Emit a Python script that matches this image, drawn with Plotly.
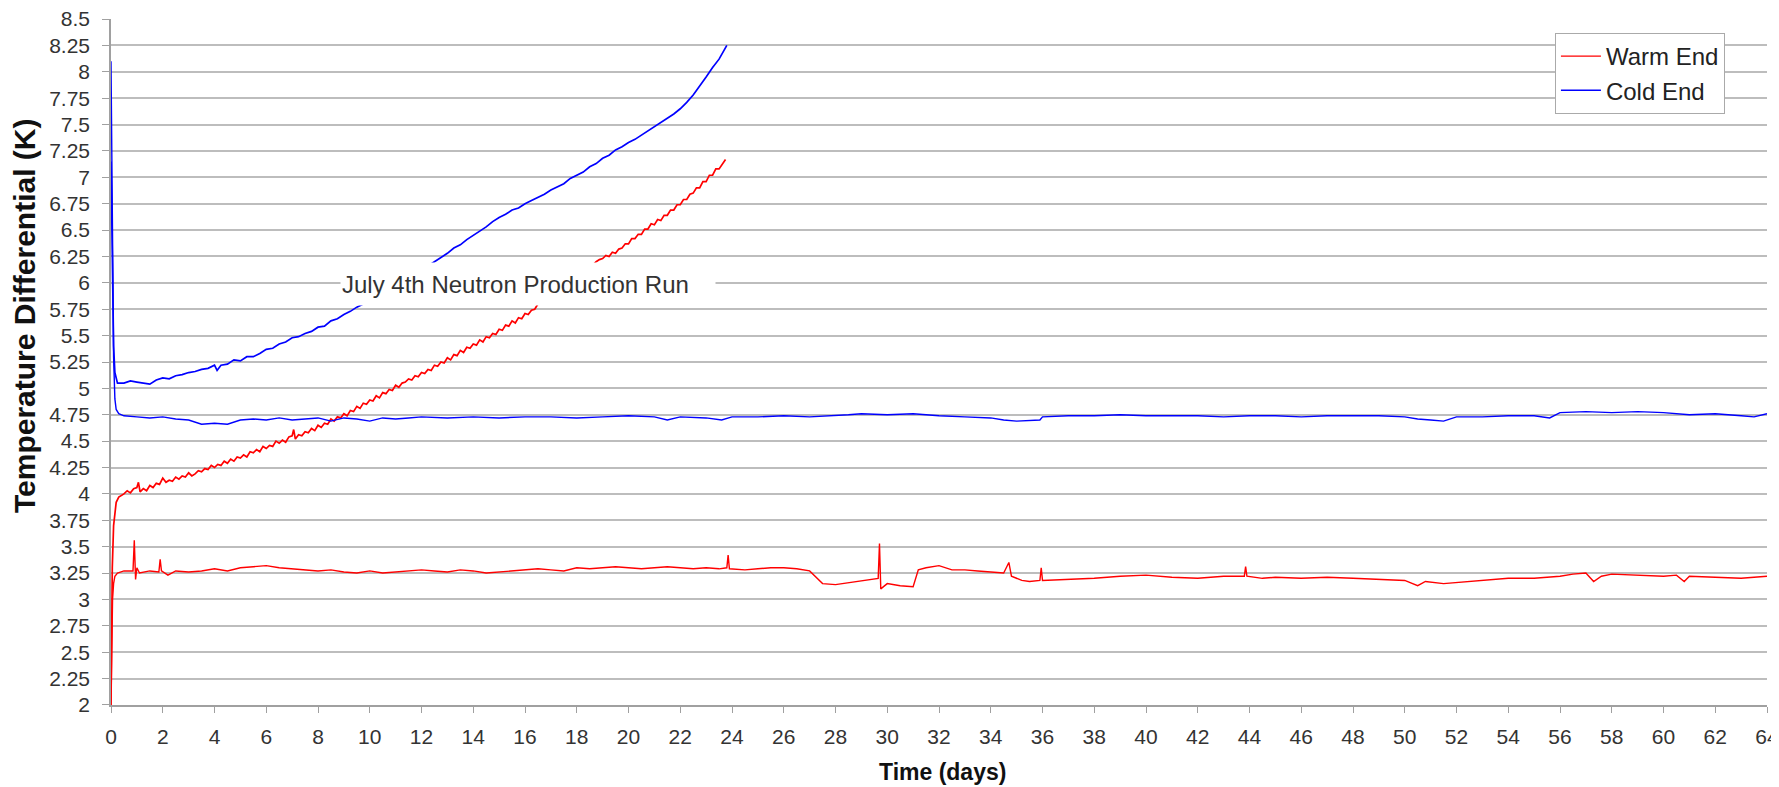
import plotly.graph_objects as go

# ---------------- data ----------------
warm_days = [0, 0.03, 0.06, 0.1, 0.15, 0.25, 0.5, 0.85, 0.9, 0.95, 1.0, 1.1, 1.5, 1.85, 1.9, 1.95, 2.2,
             2.5, 3, 3.5, 4, 4.5, 5, 5.5, 6, 6.5, 7, 7.5, 8, 8.5, 9, 9.5, 10, 10.5, 11, 11.5, 12, 12.5,
             13, 13.5, 14, 14.5, 15, 15.5, 16, 16.5, 17, 17.5, 18, 18.5, 19, 19.5, 20, 20.5, 21, 21.5,
             22, 22.5, 23, 23.5, 23.8, 23.85, 23.9, 24.5, 25, 25.5, 26, 26.5, 27, 27.5, 28, 28.5, 29,
             29.5, 29.65, 29.7, 29.75, 30, 30.5, 31, 31.2, 31.5, 32, 32.5, 33, 33.5, 34, 34.5, 34.7,
             34.8, 35.2, 35.5, 35.9, 35.95, 36, 37, 38, 39, 40, 41, 42, 43, 43.8, 43.85, 43.9, 44.5,
             45, 46, 47, 48, 49, 50, 50.5, 50.8, 51.5, 52, 53, 54, 55, 56, 56.5, 57, 57.3, 57.6, 58,
             59, 60, 60.5, 60.8, 61, 62, 63, 64]
warm_vals = [2.0, 2.6, 3.0, 3.15, 3.22, 3.25, 3.27, 3.27, 3.56, 3.19, 3.3, 3.25, 3.27, 3.26, 3.38, 3.27,
             3.23, 3.27, 3.26, 3.27, 3.29, 3.27, 3.3, 3.31, 3.32, 3.3, 3.29, 3.28, 3.27, 3.28, 3.26,
             3.25, 3.27, 3.25, 3.26, 3.27, 3.28, 3.27, 3.26, 3.28, 3.27, 3.25, 3.26, 3.27, 3.28, 3.29,
             3.28, 3.27, 3.3, 3.29, 3.3, 3.31, 3.3, 3.29, 3.3, 3.31, 3.3, 3.29, 3.3, 3.29, 3.3, 3.42,
             3.29, 3.28, 3.29, 3.3, 3.3, 3.29, 3.27, 3.15, 3.14, 3.16, 3.18, 3.2, 3.2, 3.53, 3.1,
             3.15, 3.13, 3.12, 3.28, 3.3, 3.32, 3.28, 3.28, 3.27, 3.26, 3.25, 3.35, 3.22, 3.18, 3.17,
             3.18, 3.3, 3.18, 3.19, 3.2, 3.22, 3.23, 3.21, 3.2, 3.22, 3.22, 3.31, 3.22, 3.2, 3.21,
             3.2, 3.21, 3.2, 3.19, 3.18, 3.13, 3.17, 3.15, 3.16, 3.18, 3.2, 3.2, 3.22, 3.24, 3.25,
             3.17, 3.22, 3.24, 3.23, 3.22, 3.23, 3.17, 3.22, 3.21, 3.2, 3.22]

cold_days = [0, 0.05, 0.1, 0.15, 0.2, 0.3, 0.5, 1, 1.5, 2, 2.5, 3, 3.5, 4, 4.5, 5, 5.5, 6, 6.5, 7,
             7.5, 8, 8.5, 9, 9.5, 10, 10.5, 11, 11.5, 12, 13, 14, 15, 16, 17, 18, 19, 20, 21, 21.5,
             22, 23, 23.6, 24, 25, 26, 27, 28, 28.5, 29, 30, 31, 32, 33, 34, 34.5, 35, 35.9, 36,
             37, 38, 39, 40, 41, 42, 43, 44, 45, 46, 47, 48, 49, 50, 50.5, 51, 51.5, 52, 53, 54,
             55, 55.6, 56, 57, 58, 59, 60, 61, 62, 63, 63.5, 64]
cold_vals = [8.1, 6.5, 5.3, 4.9, 4.8, 4.76, 4.74, 4.73, 4.72, 4.73, 4.71, 4.7, 4.66, 4.67, 4.66, 4.7,
             4.71, 4.7, 4.72, 4.7, 4.71, 4.72, 4.69, 4.72, 4.71, 4.69, 4.72, 4.71, 4.72, 4.73, 4.72,
             4.73, 4.72, 4.73, 4.73, 4.72, 4.73, 4.74, 4.73, 4.7, 4.73, 4.72, 4.7, 4.73, 4.73, 4.74,
             4.73, 4.74, 4.75, 4.76, 4.75, 4.76, 4.74, 4.73, 4.72, 4.7, 4.69, 4.7, 4.73, 4.74, 4.74,
             4.75, 4.74, 4.74, 4.74, 4.73, 4.74, 4.74, 4.73, 4.74, 4.74, 4.74, 4.73, 4.71, 4.7, 4.69,
             4.73, 4.73, 4.74, 4.74, 4.72, 4.77, 4.78, 4.77, 4.78, 4.77, 4.75, 4.76, 4.74, 4.73, 4.76]

# July 4th run (warm end)
run_warm_days = [0, 0.05, 0.1, 0.15, 0.2, 0.3, 0.5, 0.625, 0.75, 0.875, 1.0, 1.06, 1.125, 1.25, 1.375,
                 1.5, 1.625, 1.75, 1.875, 2.0, 2.125, 2.25, 2.375, 2.5, 2.625, 2.75, 2.875, 3.0,
                 3.125, 3.25, 3.375, 3.5, 3.625, 3.75, 3.875, 4.0, 4.125, 4.25, 4.375, 4.5, 4.625,
                 4.75, 4.875, 5.0, 5.125, 5.25, 5.375, 5.5, 5.625, 5.75, 5.875, 6.0, 6.125, 6.25,
                 6.375, 6.5, 6.625, 6.75, 6.875, 7.0, 7.06, 7.125, 7.25, 7.375, 7.5, 7.625, 7.75,
                 7.875, 8.0, 8.125, 8.25, 8.375, 8.5, 8.625, 8.75, 8.875, 9.0, 9.125, 9.25, 9.375,
                 9.5, 9.625, 9.75, 9.875, 10.0, 10.125, 10.25, 10.375, 10.5, 10.625, 10.75, 10.875,
                 11.0, 11.125, 11.25, 11.375, 11.5, 11.625, 11.75, 11.875, 12.0, 12.125, 12.25,
                 12.375, 12.5, 12.625, 12.75, 12.875, 13.0, 13.125, 13.25, 13.375, 13.5, 13.625,
                 13.75, 13.875, 14.0, 14.125, 14.25, 14.375, 14.5, 14.625, 14.75, 14.875, 15.0,
                 15.125, 15.25, 15.375, 15.5, 15.625, 15.75, 15.875, 16.0, 16.125, 16.25, 16.375,
                 16.5, 17.0, 17.5, 18.0, 18.5, 18.75, 18.875, 19.0, 19.125, 19.25, 19.375, 19.5,
                 19.625, 19.75, 19.875, 20.0, 20.125, 20.25, 20.375, 20.5, 20.625, 20.75, 20.875,
                 21.0, 21.125, 21.25, 21.375, 21.5, 21.625, 21.75, 21.875, 22.0, 22.125, 22.25,
                 22.375, 22.5, 22.625, 22.75, 22.875, 23.0, 23.125, 23.25, 23.375, 23.5, 23.625, 23.75]
run_warm_vals = [2.0, 3.3, 3.7, 3.85, 3.92, 3.97, 4.0, 4.03, 4.01, 4.05, 4.06, 4.11, 4.02, 4.05, 4.03,
                 4.08, 4.06, 4.1, 4.09, 4.15, 4.11, 4.13, 4.12, 4.16, 4.14, 4.17, 4.16, 4.2,
                 4.17, 4.19, 4.22, 4.21, 4.24, 4.23, 4.27, 4.25, 4.28, 4.27, 4.31, 4.29, 4.33,
                 4.31, 4.35, 4.34, 4.37, 4.35, 4.4, 4.39, 4.42, 4.4, 4.45, 4.43, 4.46, 4.45,
                 4.5, 4.48, 4.51, 4.49, 4.54, 4.55, 4.61, 4.52, 4.56, 4.55, 4.59, 4.58, 4.62,
                 4.6, 4.65, 4.63, 4.67, 4.66, 4.71, 4.69, 4.73, 4.72, 4.76, 4.74, 4.79, 4.78,
                 4.83, 4.81, 4.86, 4.85, 4.89, 4.88, 4.93, 4.91, 4.96, 4.95, 4.99, 4.98,
                 5.03, 5.01, 5.05, 5.06, 5.09, 5.08, 5.12, 5.11, 5.15, 5.14, 5.18,
                 5.17, 5.22, 5.21, 5.25, 5.24, 5.29, 5.27, 5.32, 5.31, 5.36, 5.34,
                 5.39, 5.38, 5.42, 5.41, 5.46, 5.44, 5.49, 5.48, 5.52, 5.51, 5.56,
                 5.55, 5.6, 5.59, 5.64, 5.62, 5.67, 5.66, 5.71, 5.7, 5.74, 5.75,
                 5.8, 5.88, 5.97, 6.05, 6.14, 6.2, 6.22, 6.23, 6.26, 6.25, 6.29, 6.28,
                 6.32, 6.33, 6.37, 6.37, 6.42, 6.42, 6.46, 6.46, 6.51, 6.51, 6.56,
                 6.55, 6.6, 6.59, 6.64, 6.64, 6.69, 6.69, 6.74, 6.74, 6.79, 6.79,
                 6.84, 6.85, 6.9, 6.9, 6.96, 6.96, 7.02, 7.02, 7.08, 7.08, 7.13, 7.17]

# July 4th run (cold end)
run_cold_days = [0, 0.05, 0.1, 0.15, 0.25, 0.5, 0.75, 1.0, 1.25, 1.5, 1.75, 2.0, 2.25, 2.5, 2.75,
                 3.0, 3.25, 3.5, 3.75, 4.0, 4.1, 4.25, 4.5, 4.75, 5.0, 5.25, 5.5, 5.75, 6.0, 6.25,
                 6.5, 6.75, 7.0, 7.25, 7.5, 7.75, 8.0, 8.25, 8.5, 8.75, 9.0, 9.25, 9.5, 9.75, 10.5,
                 11.0, 11.5, 12.0, 12.5, 12.75, 13.0, 13.25, 13.5, 13.75, 14.0, 14.25, 14.5, 14.75,
                 15.0, 15.25, 15.5, 15.75, 16.0, 16.25, 16.5, 16.75, 17.0, 17.25, 17.5, 17.75, 18.0,
                 18.25, 18.5, 18.75, 19.0, 19.25, 19.5, 19.75, 20.0, 20.25, 20.5, 20.75, 21.0, 21.25,
                 21.5, 21.75, 22.0, 22.25, 22.5, 22.75, 23.0, 23.25, 23.5, 23.8]
run_cold_vals = [7.15, 6.0, 5.4, 5.15, 5.05, 5.05, 5.07, 5.06, 5.05, 5.04, 5.08, 5.1, 5.09, 5.12,
                 5.13, 5.15, 5.16, 5.18, 5.19, 5.22, 5.17, 5.22, 5.23, 5.27, 5.26, 5.3, 5.3, 5.33,
                 5.37, 5.38, 5.42, 5.44, 5.48, 5.49, 5.52, 5.54, 5.58, 5.59, 5.64, 5.66, 5.7, 5.73,
                 5.77, 5.8, 5.9, 5.97, 6.05, 6.12, 6.2, 6.24, 6.28, 6.33, 6.36, 6.41, 6.45, 6.49,
                 6.53, 6.58, 6.62, 6.65, 6.69, 6.71, 6.75, 6.78, 6.81, 6.84, 6.88, 6.91, 6.94, 6.99,
                 7.02, 7.05, 7.1, 7.13, 7.18, 7.21, 7.26, 7.29, 7.33, 7.36, 7.4, 7.44, 7.48, 7.52,
                 7.56, 7.6, 7.65, 7.71, 7.78, 7.86, 7.95, 8.04, 8.12, 8.25]

y_ticks = [2, 2.25, 2.5, 2.75, 3, 3.25, 3.5, 3.75, 4, 4.25, 4.5, 4.75, 5, 5.25, 5.5, 5.75, 6, 6.25,
           6.5, 6.75, 7, 7.25, 7.5, 7.75, 8, 8.25, 8.5]
y_tick_text = ["2", "2.25", "2.5", "2.75", "3", "3.25", "3.5", "3.75", "4", "4.25", "4.5", "4.75",
               "5", "5.25", "5.5", "5.75", "6", "6.25", "6.5", "6.75", "7", "7.25", "7.5", "7.75",
               "8", "8.25", "8.5"]
x_ticks = list(range(0, 65, 2))

RED = "#ff0000"
BLUE = "#0000ff"
FONT = "Liberation Sans, Arial, sans-serif"

fig = go.Figure()
fig.add_trace(go.Scatter(x=run_warm_days, y=run_warm_vals, mode="lines",
                         line=dict(color=RED, width=1.7), showlegend=False, hoverinfo="skip"))
fig.add_trace(go.Scatter(x=run_cold_days, y=run_cold_vals, mode="lines",
                         line=dict(color=BLUE, width=1.7), showlegend=False, hoverinfo="skip"))
fig.add_trace(go.Scatter(x=warm_days, y=warm_vals, mode="lines", name="Warm End",
                         line=dict(color=RED, width=1.4)))
fig.add_trace(go.Scatter(x=cold_days, y=cold_vals, mode="lines", name="Cold End",
                         line=dict(color=BLUE, width=1.4)))

# the page body adds an 8 px offset; the figure is sized so the plot lands where the reference has it
fig.update_layout(
    width=1771, height=779,
    margin=dict(l=103, r=12, t=11, b=82, autoexpand=False),
    paper_bgcolor="white", plot_bgcolor="white",
    font=dict(family=FONT, color="#333333", size=21),
    legend=dict(x=0.9746, y=0.9796, xanchor="right", yanchor="top",
                bgcolor="white", bordercolor="#aaaaaa", borderwidth=1,
                font=dict(size=24, color="#222222"), traceorder="normal",
                itemwidth=40, tracegroupgap=0),
    showlegend=True,
)
fig.update_xaxes(range=[0, 64], tickvals=x_ticks, showgrid=False, zeroline=False,
                 showline=True, linecolor="#a0a0a0", linewidth=1.5, automargin=False,
                 ticks="outside", ticklen=6, tickcolor="#a0a0a0", ticklabeloverflow="allow",
                 ticklabelstandoff=6, tickfont=dict(size=21, color="#333333"))
fig.update_yaxes(range=[1.9995, 8.5005], tickvals=y_ticks, ticktext=y_tick_text,
                 showgrid=True, gridcolor="#bdbdbd", gridwidth=2, zeroline=False,
                 showline=True, linecolor="#a0a0a0", linewidth=1.5, automargin=False,
                 ticks="outside", ticklen=7, tickcolor="#a0a0a0", ticklabeloverflow="allow",
                 ticklabelstandoff=8, tickfont=dict(size=21, color="#333333"))

# covering text box
fig.add_annotation(x=16.1, y=5.99, xref="x", yref="y", text="July 4th Neutron Production Run",
                   showarrow=False, bgcolor="white", width=372, height=40,
                   font=dict(size=24, color="#333333", family=FONT), align="left")
# axis titles
fig.add_annotation(x=0, y=0.567, xref="paper", yref="paper", xanchor="center", yanchor="middle",
                   xshift=-87, textangle=-90,
                   text="<b>Temperature Differential (K)</b>", showarrow=False,
                   font=dict(size=30, color="#111111", family=FONT))
fig.add_annotation(x=0.502, y=0, xref="paper", yref="paper", xanchor="center", yanchor="middle",
                   yshift=-67, text="<b>Time (days)</b>", showarrow=False,
                   font=dict(size=23, color="#111111", family=FONT))

fig.write_html("out.html")
